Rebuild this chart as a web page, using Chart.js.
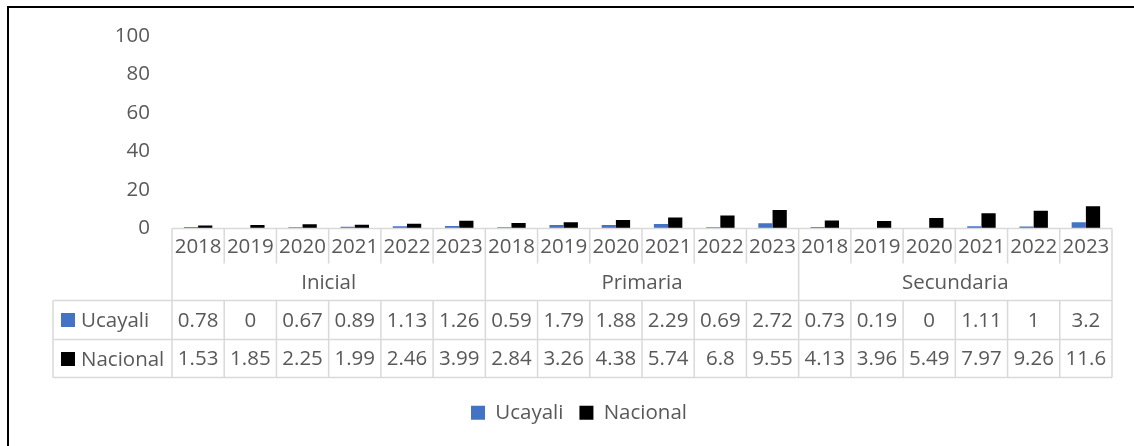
<!DOCTYPE html>
<html>
<head>
<meta charset="utf-8">
<script src="https://cdn.jsdelivr.net/npm/chart.js@4.4.1/dist/chart.umd.min.js"></script>
<style>
  html, body { margin: 0; padding: 0; background: #fff; }
  #wrap { position: relative; width: 1134px; height: 446px; overflow: hidden; }
  #chart { position: absolute; left: 0; top: 0; }
  #frame {
    position: absolute; left: 7px; top: 6px; right: 0; bottom: 0;
    border-top: 2px solid #000; border-left: 2px solid #000;
    pointer-events: none;
  }
</style>
</head>
<body>
<div id="wrap">
  <canvas id="chart" width="1134" height="446"></canvas>
  <div id="frame"></div>
</div>
<script>
// chart data
const groups = ['Inicial', 'Primaria', 'Secundaria'];
const years = ['2018', '2019', '2020', '2021', '2022', '2023'];
const ucayali = [0.78, 0, 0.67, 0.89, 1.13, 1.26, 0.59, 1.79, 1.88, 2.29, 0.69, 2.72, 0.73, 0.19, 0, 1.11, 1, 3.2];
const nacional = [1.53, 1.85, 2.25, 1.99, 2.46, 3.99, 2.84, 3.26, 4.38, 5.74, 6.8, 9.55, 4.13, 3.96, 5.49, 7.97, 9.26, 11.6];
const yTicks = [0, 20, 40, 60, 80, 100];

const labels = [];
groups.forEach(g => years.forEach(y => labels.push(g + ' ' + y)));

const textColor = '#595959';
const lineColor = '#d9d9d9';
const fontFamily = '"Open Sans", "Liberation Sans", sans-serif';
const fontSize = 20.5;

// draws the data table under the plot, columns follow the x scale
const dataTablePlugin = {
    id: 'dataTable',
    afterDraw(chart) {
        const ctx = chart.ctx;
        const xs = chart.scales.x;
        const area = chart.chartArea;
        const n = labels.length;
        const colW = (area.right - area.left) / n;
        const left = area.left, right = area.right;
        const tableLeft = 53;
        const rowTop = area.bottom;
        const rowYear = rowTop + 35;
        const rowGroup = rowTop + 72;
        const rowU = rowTop + 111;
        const rowN = rowTop + 149;

        ctx.save();
        ctx.strokeStyle = lineColor;
        ctx.lineWidth = 1.5;
        ctx.beginPath();
        // horizontal lines
        ctx.moveTo(left, rowTop); ctx.lineTo(right, rowTop);
        ctx.moveTo(tableLeft, rowGroup); ctx.lineTo(right, rowGroup);
        ctx.moveTo(tableLeft, rowU); ctx.lineTo(right, rowU);
        ctx.moveTo(tableLeft, rowN); ctx.lineTo(right, rowN);
        // left legend column
        ctx.moveTo(tableLeft, rowGroup); ctx.lineTo(tableLeft, rowN);
        // column lines
        for (let i = 0; i <= n; i++) {
            const x = left + i * colW;
            const isGroupEdge = i % years.length === 0;
            if (isGroupEdge) {
                ctx.moveTo(x, rowTop); ctx.lineTo(x, rowN);
            } else {
                ctx.moveTo(x, rowTop); ctx.lineTo(x, rowYear);
                ctx.moveTo(x, rowGroup); ctx.lineTo(x, rowN);
            }
        }
        ctx.stroke();

        ctx.fillStyle = textColor;
        ctx.font = fontSize + 'px ' + fontFamily;
        ctx.textAlign = 'center';
        ctx.textBaseline = 'middle';

        for (let i = 0; i < n; i++) {
            const cx = xs.getPixelForValue(i);
            ctx.fillText(years[i % years.length], cx, (rowTop + rowYear) / 2 + 1);
            ctx.fillText(String(ucayali[i]), cx, (rowGroup + rowU) / 2 + 1);
            ctx.fillText(String(nacional[i]), cx, (rowU + rowN) / 2 + 1);
        }
        groups.forEach((g, gi) => {
            const gx = left + (gi + 0.5) * years.length * colW;
            ctx.fillText(g, gx, (rowYear + rowGroup) / 2 + 1);
        });

        // series keys in the left column
        chart.data.datasets.forEach((ds, di) => {
            const y0 = di === 0 ? rowGroup : rowU;
            const ym = y0 + (rowU - rowGroup) / 2;
            ctx.fillStyle = ds.backgroundColor;
            ctx.fillRect(tableLeft + 8, ym - 7, 14, 14);
            ctx.fillStyle = textColor;
            ctx.textAlign = 'left';
            ctx.fillText(ds.label, tableLeft + 28, ym + 1);
        });
        ctx.restore();
    }
};

new Chart(document.getElementById('chart'), {
    type: 'bar',
    data: {
        labels: labels,
        datasets: [
            {
                label: 'Ucayali',
                data: ucayali,
                backgroundColor: '#4472c4',
                categoryPercentage: 0.545,
                barPercentage: 1.0
            },
            {
                label: 'Nacional',
                data: nacional,
                backgroundColor: '#000000',
                categoryPercentage: 0.545,
                barPercentage: 1.0
            }
        ]
    },
    options: {
        responsive: false,
        animation: false,
        layout: {
            // left padding moves the legend centre to match the table
            padding: { top: 36, right: 22, bottom: 13, left: 46 }
        },
        scales: {
            x: {
                ticks: { display: false },
                grid: { display: false },
                border: { display: false },
                afterFit: (scale) => { scale.height = 158; }
            },
            y: {
                min: 0,
                max: 100,
                afterBuildTicks: (scale) => { scale.ticks = yTicks.map(v => ({ value: v })); },
                ticks: {
                    color: textColor,
                    padding: 22,
                    font: { family: fontFamily, size: fontSize }
                },
                grid: { display: false, drawTicks: false },
                border: { display: false },
                afterFit: (scale) => { scale.width = 126; }
            }
        },
        plugins: {
            legend: {
                position: 'bottom',
                labels: {
                    color: textColor,
                    boxWidth: 14,
                    boxHeight: 14,
                    padding: 16,
                    font: { family: fontFamily, size: fontSize }
                }
            },
            tooltip: { enabled: false }
        }
    },
    plugins: [dataTablePlugin]
});
</script>
</body>
</html>
